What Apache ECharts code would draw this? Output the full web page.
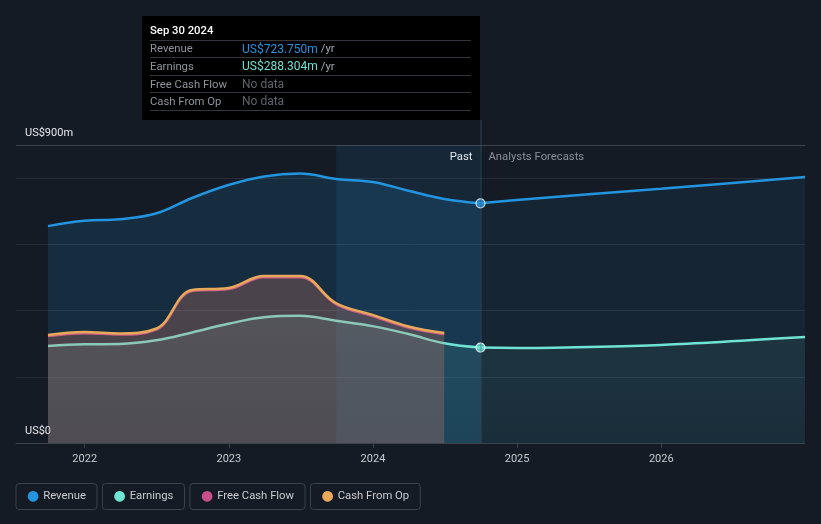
<!DOCTYPE html>
<html>
<head>
<meta charset="utf-8">
<script src="https://cdn.jsdelivr.net/npm/echarts@6/dist/echarts.min.js"></script>
<style>
html,body{margin:0;padding:0;background:#151b24;}
#chart{width:821px;height:524px;}
</style>
</head>
<body>
<div id="chart"></div>
<script>
// ---- data ----
const pastDates = ['2021-09-30','2021-12-31','2022-03-31','2022-06-30','2022-09-30','2022-12-31','2023-03-31','2023-06-30','2023-09-30','2023-12-31','2024-03-31','2024-06-30','2024-09-30'];
const revenuePast = [655, 671, 676, 693, 740, 779, 805, 814, 797, 788, 762, 737, 723.75];
const earningsPast = [293, 298, 299, 310, 334, 360, 380, 384, 369, 353, 329, 301, 288.304];
const cashDates = ['2021-09-30','2021-12-31','2022-03-31','2022-06-30','2022-09-30','2022-12-31','2023-03-31','2023-06-30','2023-09-30','2023-12-31','2024-03-31','2024-06-30'];
const cashFromOp = [326, 335, 331, 345, 462, 468, 504, 504, 422, 387, 352, 332];
const freeCashFlow = [322, 331, 327, 341, 458, 464, 500, 500, 418, 383, 348, 328];
const forecastDates = ['2024-09-30','2024-12-31','2025-12-31','2026-12-31'];
const revenueForecast = [723.75, 734, 768, 803];
const earningsForecast = [288.304, 287, 296, 320];
const yearTicks = ['2022-01-01','2023-01-01','2024-01-01','2025-01-01','2026-01-01'];
const legendNames = ['Revenue','Earnings','Free Cash Flow','Cash From Op'];
const tooltipDate = 'Sep 30 2024';
const bandStart = '2023-09-30';
const splitDate = '2024-09-30';
const axisMin = '2021-07-11';
const axisMax = '2026-12-31';

// ---- helpers: date string -> fractional year ----
const ty = s => {
  const d = new Date(s + 'T00:00:00Z');
  const y = d.getUTCFullYear();
  const a = Date.UTC(y, 0, 1), b = Date.UTC(y + 1, 0, 1);
  return y + (d.getTime() - a) / (b - a);
};
const zip = (d, v) => d.map((x, i) => [ty(x), v[i]]);
const C = {rev:'#2394df', earn:'#6fe3d4', fcf:'#c8508a', cfo:'#e9a95b'};
const font = 'Roboto, "Noto Sans", sans-serif';
const FS = 11.3;

const chart = echarts.init(document.getElementById('chart'), null, {renderer:'canvas'});

const last = pastDates.length - 1;
const fmt = v => 'US$' + v.toFixed(3) + 'm';
const tickVals = yearTicks.map(ty);
const SM = 0.4;
const dotStyle = c => ({color: c, fontSize: 14, fontFamily: 'DejaVu Sans', padding: [0, 4, 0, 0]});

const option = {
  backgroundColor: '#151b24',
  animation: false,
  textStyle: {fontFamily: font},
  grid: {left: 16, right: 16, top: 145, bottom: 81, containLabel: false},
  xAxis: {
    type: 'value',
    min: ty(axisMin), max: ty(axisMax),
    axisLine: {lineStyle: {color: '#3d424b', width: 1}},
    axisTick: {show: true, length: 5, lineStyle: {color: '#3d424b'}, customValues: tickVals},
    axisLabel: {color: '#c8ccd2', fontSize: 11, margin: 11, customValues: tickVals,
      formatter: v => String(Math.round(v))},
    splitLine: {show: false}
  },
  yAxis: {
    type: 'value', min: 0, max: 900, interval: 200,
    axisLine: {show: false}, axisTick: {show: false},
    axisLabel: {inside: true, margin: 9, verticalAlign: 'bottom', padding: [0,0,6,0],
      color: '#e6e8eb', fontSize: 11,
      formatter: v => v === 900 ? 'US$900m' : (v === 0 ? 'US$0' : '')},
    splitLine: {lineStyle: {color: ['#3d424b','#272d36','#272d36','#272d36','#272d36','#3d424b'], width: 1}}
  },
  legend: {
    left: 11, bottom: 14, padding: 0, itemWidth: 0, itemHeight: 0, itemGap: 0,
    icon: 'circle',
    data: legendNames,
    selectedMode: false,
    formatter: n => '{d' + legendNames.indexOf(n) + '|●}{t|' + n + '}',
    textStyle: {
      color: '#c8ccd2', fontSize: FS, fontFamily: font,
      borderColor: '#3d424b', borderWidth: 1, borderRadius: 3,
      padding: [6, 11, 6, 11],
      rich: {
        d0: dotStyle(C.rev), d1: dotStyle(C.earn), d2: dotStyle(C.fcf), d3: dotStyle(C.cfo),
        t: {color: '#c8ccd2', fontSize: FS, fontFamily: font}
      }
    }
  },
  series: [
    { // band
      type: 'line', data: [], z: 0, silent: true,
      markArea: {
        silent: true,
        itemStyle: {color: 'rgba(35,148,223,0.10)'},
        data: [[{xAxis: ty(bandStart)}, {xAxis: ty(splitDate)}]]
      }
    },
    {
      name: 'Revenue', type: 'line', z: 2, data: zip(pastDates, revenuePast),
      smooth: SM, showSymbol: false,
      lineStyle: {color: C.rev, width: 2.5}, itemStyle: {color: C.rev},
      areaStyle: {color: 'rgba(35,148,223,0.22)', origin: 'start'}
    },
    {
      name: 'Revenue', type: 'line', z: 2, data: zip(forecastDates, revenueForecast),
      smooth: 0.2, showSymbol: false,
      lineStyle: {color: C.rev, width: 2.5}, itemStyle: {color: C.rev},
      areaStyle: {color: 'rgba(35,148,223,0.12)', origin: 'start'}
    },
    {
      name: 'Earnings', type: 'line', z: 3, data: zip(pastDates, earningsPast),
      smooth: SM, showSymbol: false,
      lineStyle: {color: C.earn, width: 2.5}, itemStyle: {color: C.earn},
      areaStyle: {origin: 'start', color: {type: 'linear', x: 0, y: 0, x2: 0, y2: 1, colorStops: [
        {offset: 0, color: 'rgba(111,227,212,0.18)'}, {offset: 1, color: 'rgba(111,227,212,0.10)'}]}}
    },
    {
      name: 'Earnings', type: 'line', z: 3, data: zip(forecastDates, earningsForecast),
      smooth: 0.2, showSymbol: false,
      lineStyle: {color: C.earn, width: 2.5}, itemStyle: {color: C.earn},
      areaStyle: {origin: 'start', color: {type: 'linear', x: 0, y: 0, x2: 0, y2: 1, colorStops: [
        {offset: 0, color: 'rgba(111,227,212,0.12)'}, {offset: 1, color: 'rgba(111,227,212,0.06)'}]}}
    },
    {
      name: 'Free Cash Flow', type: 'line', z: 4, data: zip(cashDates, freeCashFlow),
      smooth: SM, showSymbol: false,
      lineStyle: {color: C.fcf, width: 2}, itemStyle: {color: C.fcf},
      areaStyle: {color: 'rgba(200,80,138,0.20)', origin: 'start'}
    },
    {
      name: 'Cash From Op', type: 'line', z: 5, data: zip(cashDates, cashFromOp),
      smooth: SM, showSymbol: false,
      lineStyle: {color: C.cfo, width: 2.5}, itemStyle: {color: C.cfo},
      areaStyle: {color: 'rgba(233,169,91,0.22)', origin: 'start'}
    },
    {
      type: 'scatter', z: 10, silent: true, symbolSize: 9,
      data: [
        {value: [ty(pastDates[last]), revenuePast[last]], itemStyle: {color: C.rev, borderColor: '#ffffff', borderWidth: 1.2}},
        {value: [ty(pastDates[last]), earningsPast[last]], itemStyle: {color: C.earn, borderColor: '#ffffff', borderWidth: 1.2}}
      ]
    }
  ]
};
chart.setOption(option);

// tooltip-like panel, pointer line, past/forecast labels
const px = chart.convertToPixel({xAxisIndex: 0, yAxisIndex: 0}, [ty(splitDate), 0]);
const pt = chart.convertToPixel({xAxisIndex: 0, yAxisIndex: 0}, [ty(splitDate), 900]);
const boxL = 142, boxT = 16, boxR = Math.round(px[0]), boxB = 120;
const rowY = [49.5, 67, 85, 102];
const divY = [40.5, 57.5, 75.5, 92.5, 110.5];
const rows = [
  {label: 'Revenue', val: fmt(revenuePast[last]), color: C.rev, unit: true},
  {label: 'Earnings', val: fmt(earningsPast[last]), color: C.earn, unit: true},
  {label: 'Free Cash Flow', val: 'No data', color: '#5f646b', unit: false},
  {label: 'Cash From Op', val: 'No data', color: '#5f646b', unit: false}
];
const g = [
  {type: 'line', z: 50, shape: {x1: px[0] + 0.5, y1: boxB, x2: px[0] + 0.5, y2: px[1]}, style: {stroke: 'rgba(60,100,130,0.55)', lineWidth: 1}},
  {type: 'text', z: 50, x: px[0] - 8, y: pt[1] + 12, style: {text: 'Past', fill: '#e6e8eb', font: FS + 'px ' + font, align: 'right', verticalAlign: 'middle'}},
  {type: 'text', z: 50, x: px[0] + 8, y: pt[1] + 12, style: {text: 'Analysts Forecasts', fill: '#8a9099', font: FS + 'px ' + font, align: 'left', verticalAlign: 'middle'}},
  {type: 'rect', z: 100, shape: {x: boxL, y: boxT, width: boxR - boxL, height: boxB - boxT}, style: {fill: '#000000'}},
  {type: 'text', z: 101, x: 150, y: 31.5, style: {text: tooltipDate, fill: '#ffffff', font: '500 ' + FS + 'px ' + font, verticalAlign: 'middle'}}
];
divY.forEach(y => g.push({type: 'line', z: 101, shape: {x1: 150, y1: y, x2: boxR - 9, y2: y}, style: {stroke: '#33363b', lineWidth: 1}}));
rows.forEach((r, i) => {
  g.push({type: 'text', z: 101, x: 150, y: rowY[i], style: {text: r.label, fill: '#8f949b', font: FS + 'px ' + font, verticalAlign: 'middle'}});
  g.push({type: 'text', z: 101, x: 242, y: rowY[i], style: {
    text: r.unit ? '{v|' + r.val + '} {u|/yr}' : '{v|' + r.val + '}',
    verticalAlign: 'middle', font: '12px ' + font,
    rich: {v: {fill: r.color, font: '12px ' + font}, u: {fill: '#a4a8ae', font: FS + 'px ' + font}}
  }});
});
chart.setOption({graphic: g});
</script>
</body>
</html>
